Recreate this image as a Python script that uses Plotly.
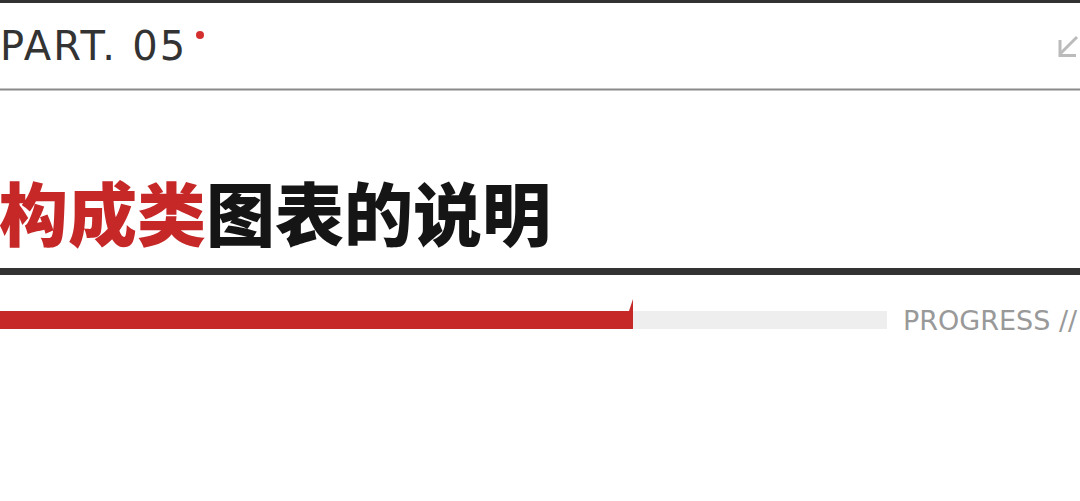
import plotly.graph_objects as go

# header content
part_label = "PART. 05"
title_red = "构成类"
title_black = "图表的说明"
progress_label = "PROGRESS //"
progress_done = [633]
progress_total = [887]

RED = "#c62828"
DARK = "#333333"

fig = go.Figure()

# progress track and filled part
fig.add_trace(go.Bar(
    y=[320], x=progress_total, orientation="h", width=18,
    marker=dict(color="#eeeeee", line=dict(width=0)), hoverinfo="skip"
))
fig.add_trace(go.Bar(
    y=[320], x=progress_done, orientation="h", width=18,
    marker=dict(color=RED, line=dict(width=0)), hoverinfo="skip"
))
# little flag at the end of the filled part
end = progress_done[0]
fig.add_trace(go.Scatter(
    x=[end - 4, end, end, end - 4], y=[311, 299, 311, 311],
    fill="toself", fillcolor=RED, mode="lines", line=dict(width=0, color=RED),
    hoverinfo="skip"
))

fig.update_layout(
    width=1080, height=501,
    margin=dict(l=0, r=0, t=0, b=0),
    paper_bgcolor="white", plot_bgcolor="white",
    showlegend=False, barmode="overlay",
    xaxis=dict(range=[0, 1080], visible=False, fixedrange=True),
    yaxis=dict(range=[501, 0], visible=False, fixedrange=True),
)

# rules
fig.add_shape(type="rect", x0=0, x1=1080, y0=0, y1=3, fillcolor=DARK, line_width=0, layer="below")
fig.add_shape(type="rect", x0=0, x1=1080, y0=88.5, y1=90.5, fillcolor="#8a8a8a", line_width=0)
fig.add_shape(type="rect", x0=0, x1=1080, y0=268, y1=275, fillcolor=DARK, line_width=0)

# red dot after PART. 05
fig.add_shape(type="circle", x0=196, x1=204, y0=31, y1=39, fillcolor="#d32f2f", line_width=0)

# arrow icon
fig.add_shape(type="path", path="M 1077 37 L 1060 54", line=dict(color="#bbbbbb", width=3))
fig.add_shape(type="path", path="M 1060 40 L 1060 55.5 L 1076 55.5", line=dict(color="#bbbbbb", width=3))

fig.add_annotation(
    x=0, y=46, xref="paper", yref="y", xanchor="left", yanchor="middle", xshift=-2,
    text=f"<span style='letter-spacing:2.2px'>{part_label}</span>", showarrow=False,
    font=dict(family="DejaVu Sans", size=40, color=DARK)
)
fig.add_annotation(
    x=0, y=211, xref="paper", yref="y", xanchor="left", yanchor="middle", xshift=-3,
    text=f"<span style='color:{RED}'>{title_red}</span>{title_black}", showarrow=False,
    font=dict(family="Noto Sans CJK SC", size=69, color="#151515", weight=900)
)
fig.add_annotation(
    x=1, y=320, xref="paper", yref="y", xanchor="right", yanchor="middle", xshift=0,
    text=progress_label, showarrow=False,
    font=dict(family="DejaVu Sans", size=27, color="#999999")
)

# the page has a default body margin; drop it so the figure fills the window
fig.write_html("out.html", config={"displayModeBar": False},
               post_script="document.body.style.margin='0';")
